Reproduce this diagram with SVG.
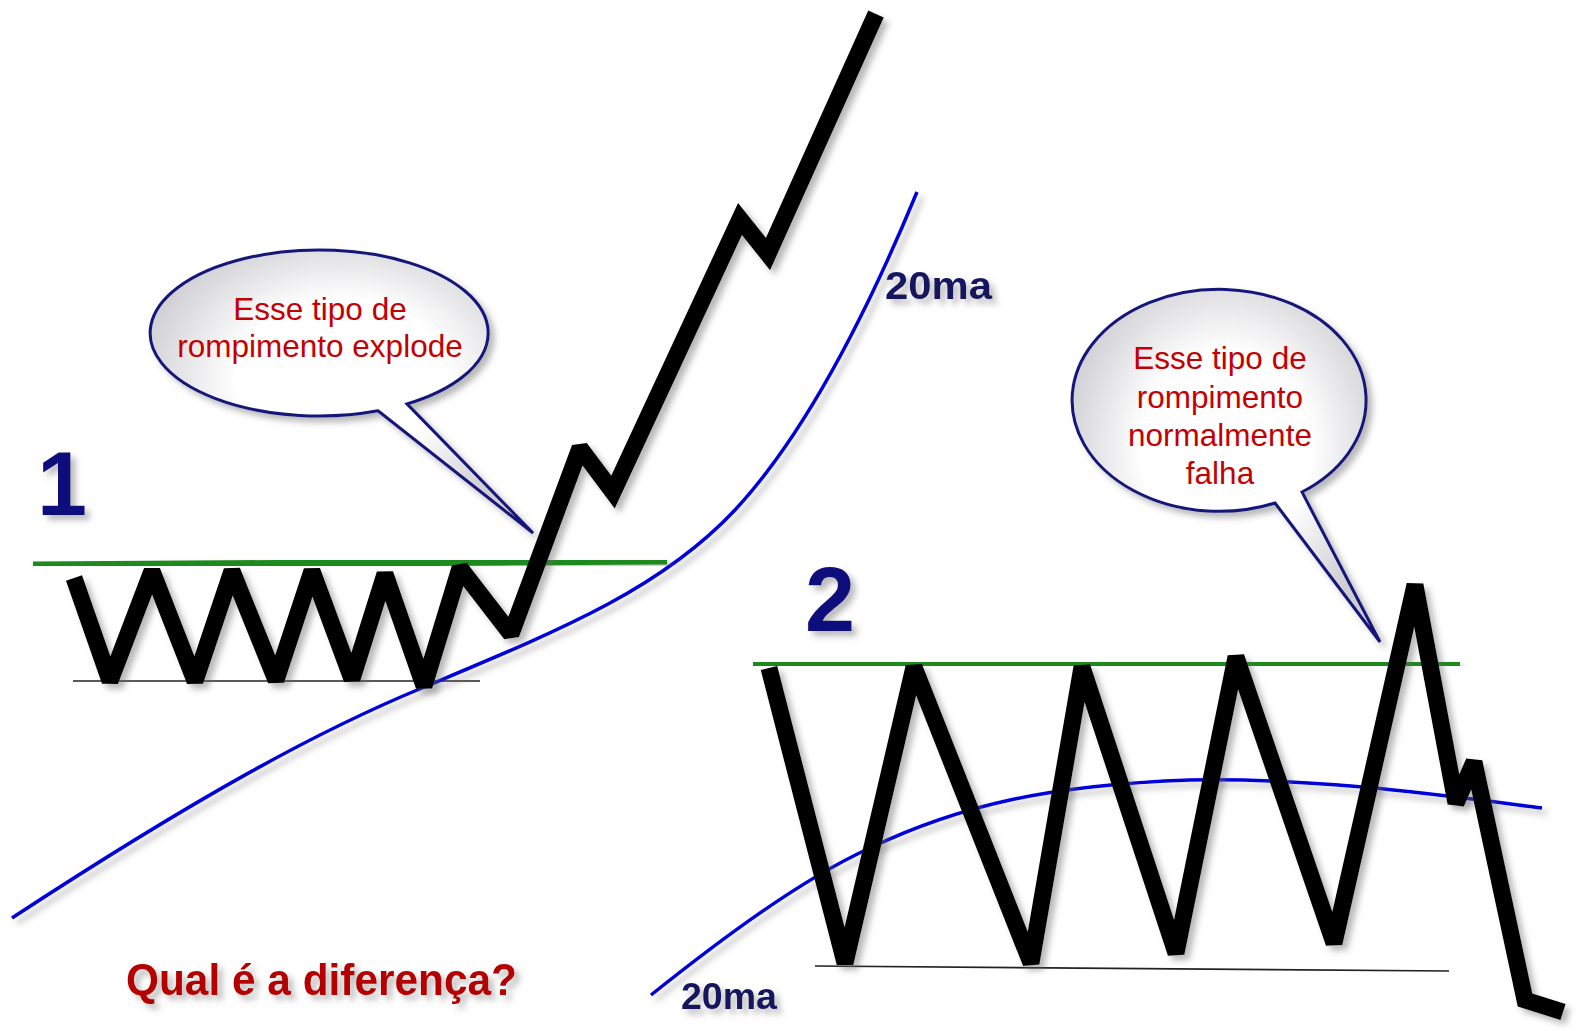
<svg xmlns="http://www.w3.org/2000/svg" width="1576" height="1031" viewBox="0 0 1576 1031">
<style>
.price{fill:none;stroke:#000;stroke-width:17;stroke-linejoin:miter;stroke-miterlimit:2;stroke-linecap:butt}
.res{fill:none;stroke:#1e8a1e;stroke-width:7}
.sup{fill:none;stroke:#222;stroke-width:1.6}
.ma{fill:none;stroke:#0000dc;stroke-width:3.5}
.bubble{fill:url(#bubGrad);stroke:#17177a;stroke-width:3}
.btxt{font-family:"Liberation Sans",Arial,sans-serif;font-size:31.5px;fill:#c40000;text-anchor:middle}
.num{font-family:"Liberation Sans",Arial,sans-serif;font-weight:bold;font-size:90px;fill:#10107c}
.malbl{font-family:"Liberation Sans",Arial,sans-serif;font-weight:bold;fill:#14145e}
.title{font-family:"Liberation Sans",Arial,sans-serif;font-weight:bold;font-size:45px;fill:#b40000}
</style>
<defs>
<filter id="sh" x="-20%" y="-20%" width="140%" height="140%">
<feDropShadow dx="5" dy="5" stdDeviation="3" flood-color="#666" flood-opacity="0.45"/>
</filter>
<radialGradient id="bubGrad" cx="0.5" cy="0.45" r="0.55">
<stop offset="0.5" stop-color="#ffffff"/>
<stop offset="1" stop-color="#cdcdd2"/>
</radialGradient>
</defs>
<rect width="1576" height="1031" fill="#ffffff"/>

<g id="chart1">
<line class="sup" x1="73" y1="681" x2="480" y2="681"/>
<path class="ma" filter="url(#sh)" d="M12 918 C200 795 320 730 422 688 C560 630 660 590 735 510 C800 440 860 330 917 192"/>
<line class="res" filter="url(#sh)" x1="33" y1="565" x2="667" y2="561"/>
<path class="price" filter="url(#sh)" d="M74 578 L110 681 L152 571 L195 681 L232 571 L276 680 L312 571 L352 679 L385 574 L424 686 L460 568 L511 634 L580 448 L613 492 L740 219 L768 254 L876 14"/>
</g>

<g id="chart2">
<line class="sup" x1="815" y1="966" x2="1449" y2="971"/>
<path class="ma" filter="url(#sh)" d="M651 995 C720 940 800 880 870 848 C960 805 1050 785 1190 780 C1320 778 1440 795 1542 808"/>
<line class="res" filter="url(#sh)" x1="753" y1="663" x2="1460" y2="665"/>
<path class="price" filter="url(#sh)" d="M769 668 L845 963 L914 667 L1031 963 L1082 667 L1176 953 L1236 657 L1334 943 L1415 585 L1456 803 L1474 762 L1525 1000 L1563 1012"/>
</g>

<g id="label1" filter="url(#sh)"><text class="num" x="37" y="515">1</text></g>
<g id="label2" filter="url(#sh)"><text class="num" x="805" y="631">2</text></g>
<g id="ma1-label" filter="url(#sh)"><text class="malbl" x="885" y="299" font-size="38" textLength="107" lengthAdjust="spacingAndGlyphs">20ma</text></g>
<g id="ma2-label" filter="url(#sh)"><text class="malbl" x="681" y="1009" font-size="37" textLength="96" lengthAdjust="spacingAndGlyphs">20ma</text></g>

<g id="bubble1">
<path class="bubble" filter="url(#sh)" d="M378 410.8 L533 533 L407 403.9 A169 83 0 1 0 378 410.8 Z"/>
<text class="btxt" x="320" y="320">Esse tipo de</text>
<text class="btxt" x="320" y="357">rompimento explode</text>
</g>

<g id="bubble2">
<path class="bubble" filter="url(#sh)" d="M1275 503 L1380 642 L1302 492 A147 111 0 1 0 1275 503 Z"/>
<text class="btxt" x="1220" y="369">Esse tipo de</text>
<text class="btxt" x="1220" y="408">rompimento</text>
<text class="btxt" x="1220" y="446">normalmente</text>
<text class="btxt" x="1220" y="484">falha</text>
</g>

<g id="title" filter="url(#sh)"><text class="title" x="126" y="995" textLength="391" lengthAdjust="spacingAndGlyphs">Qual é a diferença?</text></g>

<g id="connectors"></g>
</svg>
